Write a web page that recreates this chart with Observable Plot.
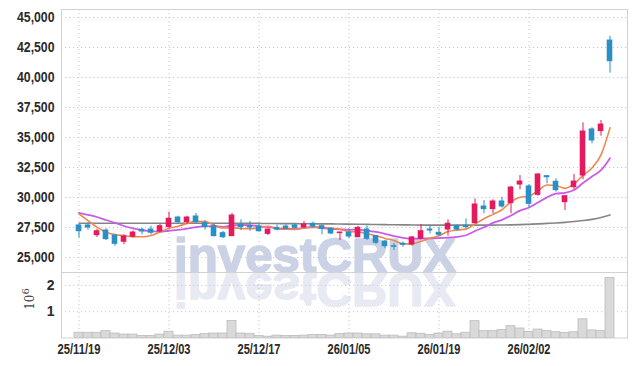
<!DOCTYPE html>
<html><head><meta charset="utf-8">
<script src="https://cdn.jsdelivr.net/npm/d3@7"></script>
<script src="https://cdn.jsdelivr.net/npm/@observablehq/plot@0.6"></script>
<style>
body{margin:0;background:#fff;}
#chart{position:relative;width:634px;height:366px;overflow:hidden;background:#fff;}
#chart svg{position:absolute;left:0;}
</style></head><body><div id="chart"></div>
<script>
const dates = ["25/11/19","25/11/20","25/11/21","25/11/24","25/11/25","25/11/26","25/11/27","25/11/28","25/12/01","25/12/02","25/12/03","25/12/04","25/12/05","25/12/08","25/12/09","25/12/10","25/12/11","25/12/12","25/12/15","25/12/16","25/12/17","25/12/18","25/12/19","25/12/22","25/12/23","25/12/24","25/12/26","25/12/29","25/12/30","26/01/02","26/01/05","26/01/06","26/01/07","26/01/08","26/01/09","26/01/12","26/01/13","26/01/14","26/01/15","26/01/16","26/01/19","26/01/20","26/01/21","26/01/22","26/01/23","26/01/26","26/01/27","26/01/28","26/01/29","26/01/30","26/02/02","26/02/03","26/02/04","26/02/05","26/02/06","26/02/09","26/02/10","26/02/11","26/02/12","26/02/13"];
const open = [27670,27670,26860,27250,26830,26310,26730,27310,27330,27170,27530,28330,27940,28420,27860,27610,27030,26780,27720,27610,27580,26970,27470,27580,27670,27500,27810,27610,27390,27030,27060,26690,27330,26780,26330,25940,26140,26080,26560,27330,27060,27330,27610,27640,27860,29250,29030,29670,29530,31080,30920,30220,31780,31310,29610,30860,31830,35670,35530,43080];
const close = [27190,27500,27190,26530,26140,26750,27080,27170,27060,27610,28230,27940,28330,27940,27530,26780,26690,28500,27530,27500,27190,27330,27330,27390,27470,27750,27580,27390,27000,27080,26750,27470,26560,26230,25940,25890,26060,26670,27190,27250,26890,27810,27330,27530,29420,29030,29670,29250,30830,31330,29470,31920,31690,30610,30110,31330,35500,34750,36080,41360];
const high = [27750,27890,27360,27390,26890,26890,27220,27440,27610,27780,28780,28440,28440,28670,28080,27750,27170,28670,28140,28000,27810,27390,27720,27720,27750,28000,27940,27720,27500,27110,27400,27610,27610,26830,26420,26190,26280,26750,27750,27670,27530,28140,27720,28220,29890,29750,29810,30030,30920,31830,31080,31970,31830,31560,30170,31920,36220,35810,36420,43440];
const low = [26610,27280,26670,26420,25940,26060,26610,26890,26890,27060,27440,27780,27730,27780,27300,26720,26560,26750,27250,27190,27110,26830,27220,27280,27390,27440,27440,26890,26890,26420,26560,26640,26420,26080,25720,25580,25860,25940,26470,26970,26780,26780,27170,27390,27810,28640,28640,29110,28640,30640,29140,30110,31140,30440,28920,30640,31470,34470,35110,40360];
const volume = [200000,200000,200000,260000,170000,130000,130000,80000,80000,130000,240000,90000,90000,110000,150000,170000,170000,650000,170000,160000,80000,50000,90000,80000,80000,90000,110000,110000,90000,150000,170000,170000,140000,140000,90000,90000,50000,180000,160000,110000,170000,240000,140000,200000,640000,260000,260000,300000,450000,360000,230000,320000,260000,220000,190000,220000,710000,290000,260000,2280000];
const ma5 = [28640,28080,27525,27110,26910,26822,26738,26734,26840,27134,27429,27601,27833,28009,27993,27704,27454,27488,27406,27400,27482,27610,27376,27348,27342,27454,27504,27516,27438,27360,27160,27138,26972,26818,26590,26418,26136,26158,26350,26612,26812,27162,27294,27362,27796,28224,28596,28980,29640,30022,30110,30560,31048,31004,30760,31132,31848,32460,33554,35804];
const ma10 = [28725,28560,28375,28125,27890,27625,27417,27270,27210,27150,27230,27300,27400,27530,27620,27600,27560,27680,27710,27700,27600,27540,27440,27380,27380,27470,27560,27450,27390,27350,27310,27320,27240,27130,26975,26790,26640,26565,26585,26600,26615,26650,26725,26855,27205,27520,27880,28140,28500,28910,29165,29580,30015,30320,30390,30620,31205,31755,32280,33280];
const ma60 = [27850,27850,27850,27850,27850,27850,27850,27850,27850,27850,27850,27850,27850,27850,27850,27850,27850,27850,27850,27850,27840,27830,27830,27820,27820,27810,27810,27800,27800,27790,27780,27770,27760,27750,27740,27730,27720,27710,27700,27700,27700,27700,27700,27700,27700,27700,27700,27710,27720,27740,27770,27800,27840,27880,27930,28000,28080,28180,28330,28550];
const tickDates = ["25/11/19","25/12/03","25/12/17","26/01/05","26/01/19","26/02/02"];
const priceTicks = [25000,27500,30000,32500,35000,37500,40000,42500,45000];
const volumeTicks = [1000000,2000000];

const rows = dates.map((d,i)=>({date:d, open:open[i], close:close[i], high:high[i], low:low[i], volume:volume[i], ma5:ma5[i], ma10:ma10[i], ma60:ma60[i]}));
const ups = rows.filter(d=>d.close>=d.open);
const downs = rows.filter(d=>d.close<d.open);
const UP = "#e5195e", DOWN = "#2a8fc4";
const grid = {stroke:"#c4c8d8", strokeOpacity:1, strokeDasharray:"1.2,2.8"};
const xOpts = {type:"band", domain:dates, paddingInner:0, paddingOuter:0};
const styleStr = "font-family:'Liberation Sans',Arial,sans-serif;font-size:14px;font-weight:bold;color:#2a2a2a;background:transparent;overflow:visible;";

const upper = Plot.plot({
  width:634, height:272, marginTop:9, marginBottom:0, marginLeft:61, marginRight:7,
  style: styleStr,
  x: {...xOpts, axis:null},
  y: {domain:[23750,45667]},
  marks: [
    Plot.gridY(priceTicks, grid),
    Plot.gridX(tickDates, grid),
    Plot.frame({stroke:"#d2d2d2"}),
    Plot.axisY(priceTicks, {tickSize:0, tickPadding:7, label:null, tickFormat:d3.format(",")}),
    Plot.lineY(rows, {x:"date", y:"ma60", stroke:"#858585", strokeWidth:1.6, curve:"monotone-x"}),
    Plot.lineY(rows, {x:"date", y:"ma10", stroke:"#c95be9", strokeWidth:1.8, curve:"monotone-x"}),
    Plot.lineY(rows, {x:"date", y:"ma5", stroke:"#ee874d", strokeWidth:1.6, curve:"monotone-x"}),
    Plot.ruleX(ups, {x:"date", y1:"low", y2:"high", stroke:UP, strokeWidth:1}),
    Plot.ruleX(downs, {x:"date", y1:"low", y2:"high", stroke:DOWN, strokeWidth:1}),
    Plot.barY(ups, {x:"date", y1:"open", y2:"close", fill:UP, insetLeft:1.7, insetRight:1.7, insetTop:-0.5, insetBottom:-0.5}),
    Plot.barY(downs, {x:"date", y1:"open", y2:"close", fill:DOWN, insetLeft:1.7, insetRight:1.7, insetTop:-0.5, insetBottom:-0.5})
  ]
});

const lower = Plot.plot({
  width:634, height:94, marginTop:0, marginBottom:28.5, marginLeft:61, marginRight:7,
  style: styleStr,
  x: {...xOpts},
  y: {domain:[0,2490000]},
  marks: [
    Plot.gridY(volumeTicks, grid),
    Plot.gridX(tickDates, grid),
    Plot.barY(rows, {x:"date", y:"volume", fill:"#d9d9d9", stroke:"#bcbcbc", strokeWidth:0.8}),
    Plot.frame({stroke:"#d2d2d2"}),
    Plot.axisY(volumeTicks, {tickSize:0, tickPadding:7, label:null, tickFormat:d=>d/1000000}),
    Plot.axisX(tickDates, {tickSize:0, tickPadding:6.5, label:null})
  ]
});

upper.style.top = "0px";
lower.style.top = "272px";
const holder = document.getElementById("chart");
holder.appendChild(upper);
holder.appendChild(lower);

// condensed look of the tick labels
d3.select(upper).selectAll("g[aria-label='y-axis tick label'] text")
  .attr("textLength", 37.5).attr("lengthAdjust", "spacingAndGlyphs");
d3.select(lower).selectAll("g[aria-label='x-axis tick label'] text")
  .attr("textLength", 43).attr("lengthAdjust", "spacingAndGlyphs");

// watermark and its reflection
const wmFont = "'Liberation Sans', Arial, sans-serif";
d3.select(upper).insert("text", "g[aria-label='line']")
  .attr("x", 174).attr("y", 271.5).attr("text-anchor", "start")
  .attr("textLength", 282).attr("lengthAdjust", "spacingAndGlyphs")
  .attr("font-family", wmFont).attr("font-size", 49).attr("font-weight", "bold")
  .attr("fill", "#cbd2e5").attr("stroke", "#cbd2e5").attr("stroke-width", 1.6).attr("stroke-linejoin", "round")
  .text("investCRUX");
d3.select(lower).insert("text", "g[aria-label='bar']")
  .attr("x", 174).attr("y", -0.5).attr("text-anchor", "start").attr("transform", "scale(1,-1)")
  .attr("textLength", 282).attr("lengthAdjust", "spacingAndGlyphs")
  .attr("font-family", wmFont).attr("font-size", 49).attr("font-weight", "bold")
  .attr("fill", "#cbd2e5").attr("stroke", "#cbd2e5").attr("stroke-width", 1.6).attr("stroke-linejoin", "round")
  .attr("opacity", 0.45)
  .text("investCRUX");

// exponent label of the volume axis
const ex = d3.select(lower).append("text")
  .attr("transform", "translate(34,27) rotate(-90)")
  .attr("text-anchor", "middle")
  .attr("font-family", "'DejaVu Serif', serif").attr("font-size", 12).attr("font-weight", "normal")
  .attr("fill", "#444");
ex.append("tspan").text("10");
ex.append("tspan").attr("dy", -5).attr("font-size", 10).text("6");
</script></body></html>
